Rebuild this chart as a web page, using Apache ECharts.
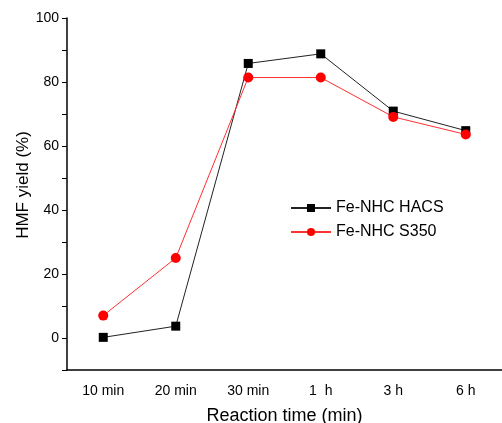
<!DOCTYPE html>
<html>
<head>
  <meta charset="utf-8">
  <title>HMF yield</title>
  <script src="https://cdn.jsdelivr.net/npm/echarts@6/dist/echarts.min.js"></script>
  <style>
    html, body { margin: 0; padding: 0; background: #fff; }
  </style>
</head>
<body>
  <div id="main" style="width: 502px;height:423px;"></div>
  <script type="text/javascript">
    var times = ['10 min', '20 min', '30 min', '1  h', '3 h', '6 h'];
    var hacsYield = [0.2, 3.7, 85.8, 88.8, 70.9, 64.8];
    var s350Yield = [7.0, 25.0, 81.4, 81.4, 69.1, 63.6];
    var seriesNames = ['Fe-NHC HACS', 'Fe-NHC S350'];

    var myChart = echarts.init(document.getElementById('main'));
    var font = 'Arial, "Liberation Sans", sans-serif';

    var option = {
      backgroundColor: '#ffffff',
      animation: false,
      textStyle: { fontFamily: font },
      grid: { left: 67, top: 18, right: 0, bottom: 53, containLabel: false, outerBoundsMode: 'none' },
      legend: {
        data: seriesNames,
        orient: 'vertical',
        left: 285,
        top: 195,
        itemWidth: 40,
        itemHeight: 10,
        itemGap: 8,
        textStyle: { fontSize: 16, color: '#000', fontFamily: font }
      },
      xAxis: [{
        type: 'category',
        data: times,
        boundaryGap: true,
        name: 'Reaction time (min)',
        nameLocation: 'middle',
        nameGap: 37,
        nameMoveOverlap: false,
        nameTextStyle: { fontSize: 18, color: '#000' },
        axisLine: { onZero: false, lineStyle: { color: '#000', width: 1.5 } },
        axisTick: { length: 4, lineStyle: { color: '#000' } },
        axisLabel: { fontSize: 14, color: '#000', margin: 14 }
      }, {
        type: 'category',
        data: times,
        boundaryGap: true,
        position: 'bottom',
        gridIndex: 0,
        axisLine: { show: false, onZero: false },
        axisTick: { alignWithLabel: true, length: 6, lineStyle: { color: '#000' } },
        axisLabel: { show: false }
      }],
      yAxis: {
        type: 'value',
        min: -10,
        max: 100,
        interval: 10,
        name: 'HMF yield (%)',
        nameLocation: 'middle',
        nameGap: 35,
        nameMoveOverlap: false,
        nameTextStyle: { fontSize: 17, color: '#000', padding: [0, 0, 0, 18] },
        splitLine: { show: false },
        axisLine: { show: true, lineStyle: { color: '#000', width: 1.5 } },
        axisTick: { show: true, length: 5, lineStyle: { color: '#000' } },
        axisLabel: {
          fontSize: 14,
          color: '#000',
          margin: 8,
          formatter: function (v) { return v % 20 === 0 ? v : ''; }
        }
      },
      series: [{
        name: seriesNames[0],
        type: 'line',
        data: hacsYield,
        symbol: 'rect',
        symbolSize: 9,
        itemStyle: { color: '#000' },
        lineStyle: { color: '#222', width: 1 }
      }, {
        name: seriesNames[1],
        type: 'line',
        data: s350Yield,
        symbol: 'circle',
        symbolSize: 10,
        itemStyle: { color: '#ff0000' },
        lineStyle: { color: '#ff3030', width: 1 }
      }]
    };

    myChart.setOption(option);
  </script>
</body>
</html>
